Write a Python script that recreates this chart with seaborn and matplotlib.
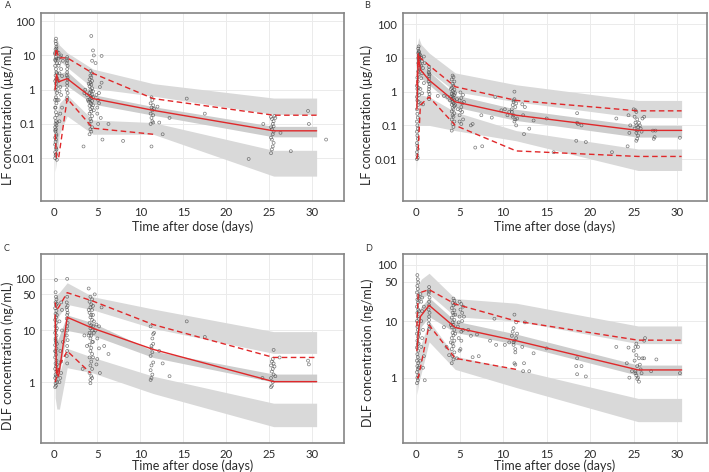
import matplotlib
matplotlib.use("Agg")
import matplotlib.pyplot as plt
import pandas as pd
import seaborn as sns

# time bins of the simulated prediction intervals / observed percentiles
bin_t = [0.1, 0.3, 0.6, 1.5, 4.5, 11.5, 25.5, 30.5]
line_t = [0.1, 0.25, 0.5, 1.5, 4.5, 11.5, 25.5, 30.5]

# ---------------- A : LF, regimen 1 ----------------
a_obs = [
    (0.10, 0.010), (0.15, 0.012), (0.10, 0.015), (0.20, 0.020), (0.10, 0.025), (0.15, 0.030), (0.20, 0.035),
    (0.10, 0.040), (0.25, 0.050), (0.15, 0.060), (0.20, 0.070), (0.10, 0.080), (0.25, 0.090), (0.15, 0.10),
    (0.20, 0.12), (0.10, 0.15), (0.30, 0.18), (0.20, 0.22), (0.15, 0.30), (0.25, 0.40), (0.10, 0.50),
    (0.20, 0.60), (0.30, 0.80), (0.15, 1.0), (0.25, 1.2), (0.20, 1.5), (0.10, 1.8), (0.30, 2.2), (0.15, 2.6),
    (0.25, 3.2), (0.20, 4.0), (0.10, 5.0), (0.30, 6.0), (0.15, 7.0), (0.25, 8.0), (0.20, 9.0), (0.10, 11),
    (0.30, 13), (0.15, 15), (0.25, 18), (0.20, 22), (0.15, 26), (0.20, 31), (0.30, 0.009), (0.25, 0.045),
    (0.30, 0.11), (0.10, 0.30), (0.30, 3.0), (0.10, 12), (0.25, 16), (0.20, 0.013), (0.25, 0.018),
    (0.10, 0.065), (0.30, 0.5), (0.20, 2.0), (0.10, 7.5),
    (0.5, 8), (0.6, 6), (0.7, 9), (0.5, 5), (0.8, 4), (0.6, 3), (0.9, 2.5), (0.5, 1.8), (0.7, 1.2),
    (0.6, 0.9), (0.8, 0.7), (0.5, 0.5), (0.9, 0.3), (0.7, 0.2), (0.6, 0.12), (1.0, 7), (0.8, 10), (0.5, 12),
    (1.5, 9), (1.5, 7), (1.45, 6), (1.55, 5), (1.5, 4), (1.5, 3.2), (1.45, 2.6), (1.55, 2), (1.5, 1.6),
    (1.5, 1.3), (1.45, 1.0), (1.55, 0.8), (1.5, 0.6), (1.5, 0.5), (1.45, 8), (1.55, 2.3),
    (4.1, 0.05), (4.3, 0.06), (4.2, 0.07), (4.4, 0.08), (4.1, 0.1), (4.3, 0.12), (4.2, 0.14), (4.4, 0.17),
    (4.1, 0.2), (4.3, 0.23), (4.2, 0.27), (4.4, 0.3), (4.1, 0.34), (4.3, 0.38), (4.2, 0.42), (4.4, 0.47),
    (4.1, 0.52), (4.3, 0.58), (4.2, 0.65), (4.4, 0.72), (4.1, 0.8), (4.3, 0.9), (4.2, 1.0), (4.4, 1.1),
    (4.1, 1.25), (4.3, 1.4), (4.2, 1.6), (4.4, 1.8), (4.1, 2.0), (4.3, 2.3), (4.2, 2.6), (4.4, 3.0),
    (4.5, 0.35), (4.5, 0.6), (4.5, 0.9), (4.0, 0.45), (4.0, 1.5), (3.8, 0.7), (3.6, 1.0), (3.4, 0.022),
    (3.5, 0.8), (4.3, 37), (4.5, 14), (4.6, 10), (4.4, 7), (4.2, 3.5), (5.0, 0.3), (5.1, 0.5), (5.2, 0.8),
    (5.3, 1.2), (5.0, 0.2), (5.2, 0.4), (5.4, 0.15), (5.5, 1.6), (5.1, 0.1), (5.5, 9.7), (5.6, 0.035),
    (4.8, 6), (3.9, 0.5), (4.6, 0.25), (4.9, 0.7),
    (11.2, 0.1), (11.4, 0.12), (11.3, 0.15), (11.5, 0.18), (11.2, 0.2), (11.4, 0.25), (11.3, 0.3),
    (11.5, 0.35), (11.2, 0.4), (11.4, 0.5), (11.3, 0.6), (11.5, 0.11), (11.3, 0.022), (11.6, 0.28),
    (12.0, 0.32), (12.2, 0.11),
    (6.3, 0.1), (8.0, 0.032), (12.6, 0.05), (13.4, 0.15), (15.4, 0.55), (17.5, 0.2), (22.6, 0.0095),
    (24.3, 0.1), (26.3, 0.055), (27.5, 0.016), (29.5, 0.24), (29.6, 0.1), (31.6, 0.035),
    (25.2, 0.014), (25.3, 0.018), (25.4, 0.022), (25.5, 0.028), (25.3, 0.035), (25.2, 0.04), (25.4, 0.05),
    (25.5, 0.06), (25.3, 0.07), (25.2, 0.08), (25.4, 0.1), (25.5, 0.12), (25.3, 0.14), (25.6, 0.17),
    (25.2, 0.16), (25.7, 0.15), (25.5, 0.085),
]
a_p95_lo = [5, 8, 7, 4.5, 1.1, 0.65, 0.19, 0.19]
a_p95_hi = [20, 30, 20, 12, 4.0, 1.5, 0.57, 0.57]
a_med_lo = [0.4, 1.2, 1.2, 1.3, 0.38, 0.18, 0.042, 0.042]
a_med_hi = [2, 3.5, 3, 3.4, 0.72, 0.32, 0.085, 0.085]
a_p5_lo = [0.004, 0.01, 0.05, 0.17, 0.05, 0.05, 0.003, 0.003]
a_p5_hi = [0.05, 0.2, 0.4, 0.7, 0.13, 0.11, 0.017, 0.017]
a_median = [1.0, 2.8, 1.7, 2.1, 0.55, 0.25, 0.063, 0.063]
a_upper = [10, 16, 8.5, 8.5, 3.0, 0.55, 0.18, 0.18]
a_lower = [0.05, 0.01, 0.01, 0.55, 0.075, 0.05]

# ---------------- B : LF, regimen 2 ----------------
b_obs = [
    (0.10, 0.010), (0.20, 0.011), (0.15, 0.013), (0.10, 0.016), (0.20, 0.020), (0.15, 0.025), (0.10, 0.030),
    (0.20, 0.040), (0.15, 0.050), (0.10, 0.065), (0.20, 0.080), (0.15, 0.10), (0.10, 0.13), (0.20, 0.17),
    (0.15, 0.22), (0.10, 0.30), (0.20, 0.40), (0.15, 0.55), (0.10, 0.70), (0.20, 0.90), (0.15, 1.2),
    (0.10, 1.5), (0.20, 2.0), (0.15, 2.6), (0.30, 3.2), (0.25, 4.0), (0.35, 5.0), (0.30, 6.0), (0.25, 7.0),
    (0.35, 8.0), (0.30, 9.0), (0.25, 10), (0.35, 11), (0.30, 12), (0.25, 14), (0.30, 16), (0.25, 19),
    (0.30, 22), (0.40, 4.5), (0.45, 6.5), (0.40, 9.5), (0.30, 1.3), (0.35, 0.8), (0.40, 13), (0.35, 15),
    (0.30, 0.5),
    (0.5, 12), (0.6, 10), (0.7, 8), (0.6, 6), (0.8, 5), (0.7, 3.5), (0.6, 2.5), (0.9, 1.8), (0.5, 1.2),
    (0.7, 0.9), (0.6, 0.45), (0.8, 0.42), (1.0, 7), (0.9, 11),
    (1.5, 5.5), (1.5, 4.5), (1.45, 3.8), (1.55, 3.2), (1.5, 2.8), (1.5, 2.4), (1.45, 2.0), (1.55, 1.7),
    (1.5, 1.4), (1.5, 1.2), (1.45, 1.0), (1.55, 0.85), (1.5, 0.7), (1.5, 0.6), (1.5, 3.5),
    (4.1, 0.07), (4.3, 0.09), (4.2, 0.11), (4.4, 0.13), (4.1, 0.15), (4.3, 0.18), (4.2, 0.2), (4.4, 0.23),
    (4.1, 0.26), (4.3, 0.3), (4.2, 0.33), (4.4, 0.37), (4.1, 0.41), (4.3, 0.45), (4.2, 0.5), (4.4, 0.55),
    (4.1, 0.6), (4.3, 0.66), (4.2, 0.72), (4.4, 0.8), (4.1, 0.88), (4.3, 0.95), (4.2, 1.05), (4.4, 1.15),
    (4.1, 1.3), (4.3, 1.5), (4.2, 1.7), (4.4, 2.0), (4.1, 2.3), (4.3, 2.7), (4.2, 3.0), (4.5, 0.4),
    (4.5, 0.9), (4.0, 0.7), (4.0, 1.2), (3.6, 0.7), (3.2, 0.75), (3.9, 0.55), (5.0, 0.2), (5.1, 0.28),
    (5.2, 0.35), (5.3, 0.45), (5.0, 0.55), (5.2, 0.65), (5.4, 0.8), (5.1, 0.95), (5.3, 0.25), (5.0, 0.13),
    (5.2, 0.11), (5.4, 0.15), (5.5, 0.5), (4.8, 0.3), (4.7, 0.6), (2.5, 0.75),
    (6.3, 0.1), (6.5, 0.11), (6.8, 0.022), (7.6, 0.024), (7.5, 0.2), (8.7, 0.17), (9.1, 0.7), (9.8, 0.28),
    (10.5, 0.2), (10.2, 0.3), (10.7, 0.25),
    (11.0, 0.3), (11.1, 0.4), (11.2, 0.5), (11.3, 0.6), (11.3, 1.0), (11.2, 0.2), (11.4, 0.15),
    (11.1, 0.18), (11.3, 0.13), (11.5, 0.1), (11.4, 0.35), (11.2, 0.55), (11.5, 0.45), (11.6, 0.16),
    (11.0, 0.25),
    (12.3, 0.2), (12.5, 0.35), (12.2, 0.42), (12.4, 0.055), (13.0, 0.08), (13.5, 0.14), (15.0, 0.16),
    (15.8, 0.016), (18.5, 0.23), (18.5, 0.12), (18.6, 0.11), (18.4, 0.035), (19.0, 0.1), (19.5, 0.032),
    (22.5, 0.016), (23.0, 0.16),
    (24.3, 0.024), (24.5, 0.06), (24.6, 0.1), (24.4, 0.2), (25.0, 0.3), (25.2, 0.28), (25.3, 0.25),
    (25.1, 0.18), (25.4, 0.15), (25.2, 0.12), (25.3, 0.1), (25.5, 0.09), (25.1, 0.08), (25.4, 0.07),
    (25.3, 0.06), (25.5, 0.05), (25.4, 0.04), (25.3, 0.035), (25.6, 0.12), (25.8, 0.08), (26.0, 0.16),
    (26.2, 0.18), (25.9, 0.065), (25.7, 0.1),
    (27.2, 0.07), (27.3, 0.04), (27.5, 0.07), (27.4, 0.045), (30.3, 0.043),
]
b_p95_lo = [3, 8, 6, 4, 1.0, 0.5, 0.17, 0.17]
b_p95_hi = [20, 40, 25, 14, 3.6, 1.6, 0.55, 0.55]
b_med_lo = [0.3, 3, 2.5, 1.6, 0.35, 0.14, 0.045, 0.045]
b_med_hi = [1.5, 8, 6, 4, 0.8, 0.3, 0.1, 0.1]
b_p5_lo = [0.005, 0.1, 0.1, 0.1, 0.07, 0.035, 0.0046, 0.0046]
b_p5_hi = [0.05, 0.8, 0.8, 0.7, 0.25, 0.07, 0.02, 0.02]
b_median = [0.3, 12, 4.5, 2.2, 0.5, 0.2, 0.071, 0.071]
b_upper = [1.5, 14, 10, 6, 1.4, 0.55, 0.27, 0.27]
b_lower = [0.01, 0.02, 0.4, 0.7, 0.1, 0.0175, 0.012, 0.012]

# ---------------- C : DLF, regimen 1 ----------------
c_obs = [
    (0.10, 0.80), (0.20, 0.85), (0.15, 0.95), (0.25, 1.1), (0.10, 1.2), (0.20, 1.3), (0.15, 1.4),
    (0.25, 1.6), (0.10, 1.8), (0.20, 2.0), (0.15, 2.3), (0.25, 2.6), (0.10, 3.0), (0.20, 3.4), (0.15, 3.9),
    (0.25, 4.5), (0.10, 5.2), (0.20, 6.0), (0.15, 7.0), (0.25, 8.0), (0.10, 9.0), (0.20, 10), (0.15, 12),
    (0.25, 14), (0.10, 16), (0.20, 18), (0.15, 21), (0.25, 24), (0.10, 27), (0.20, 31), (0.15, 35),
    (0.25, 40), (0.20, 45), (0.15, 55), (0.20, 95), (0.30, 1.0), (0.30, 2.2), (0.30, 5.5), (0.30, 11),
    (0.30, 20), (0.30, 33), (0.35, 1.3), (0.35, 1.7), (0.10, 4.0), (0.15, 6.5),
    (0.6, 1.0), (0.7, 1.2), (0.8, 2.5), (0.9, 10), (0.6, 15), (0.8, 35), (1.0, 6), (0.7, 4.0), (0.9, 25),
    (0.8, 1.5),
    (1.5, 100), (1.5, 45), (1.45, 35), (1.55, 30), (1.5, 25), (1.5, 20), (1.45, 17), (1.55, 14), (1.5, 12),
    (1.5, 10), (1.45, 8), (1.55, 6.5), (1.5, 5), (1.5, 4), (1.45, 3.2), (1.5, 2.3), (1.55, 22), (1.45, 28),
    (4.2, 1.1), (4.3, 1.3), (4.1, 1.5), (4.4, 1.8), (4.2, 2.1), (4.3, 2.5), (4.1, 3.0), (4.4, 3.5),
    (4.2, 4.0), (4.3, 4.6), (4.1, 5.3), (4.4, 6.0), (4.2, 7.0), (4.3, 8.0), (4.1, 9.0), (4.4, 10),
    (4.2, 11), (4.3, 12.5), (4.1, 14), (4.4, 16), (4.2, 18), (4.3, 20), (4.1, 22), (4.4, 25), (4.2, 28),
    (4.3, 32), (4.1, 36), (4.4, 40), (4.2, 45), (4.0, 65), (4.5, 12), (4.5, 20), (4.5, 30), (4.5, 6),
    (4.5, 3), (4.6, 9), (4.6, 15), (4.7, 50), (4.0, 8), (4.0, 25), (3.5, 8.0), (3.8, 5.0), (3.3, 1.8),
    (4.8, 10), (4.9, 13), (5.0, 7), (5.2, 4.5), (5.0, 2.8), (5.3, 1.5), (5.5, 28), (5.2, 12), (4.9, 2.2),
    (4.4, 1.2), (4.2, 0.95),
    (6.3, 3.5), (5.8, 5.0),
    (11.2, 1.1), (11.3, 1.2), (11.4, 1.4), (11.2, 1.7), (11.3, 2.1), (11.5, 2.4), (11.2, 3.2), (11.4, 3.8),
    (11.3, 4.5), (11.5, 5.5), (11.4, 7), (11.5, 8.5), (11.2, 12), (11.3, 5), (11.6, 9),
    (12.2, 4.0), (12.6, 2.3), (13.4, 1.3), (15.4, 15), (17.5, 7.5), (24.2, 1.2),
    (25.2, 0.8), (25.3, 0.85), (25.4, 1.0), (25.2, 1.2), (25.5, 1.4), (25.3, 1.6), (25.4, 1.8), (25.2, 2.1),
    (25.5, 2.3), (25.3, 2.5), (25.4, 2.8), (25.6, 2.0), (25.5, 4.2), (25.7, 1.3),
    (26.2, 3.0), (29.5, 2.6), (29.6, 2.2),
]
c_p95_lo = [10, 15, 20, 32, 25, 11, 3.6, 3.6]
c_p95_hi = [45, 50, 55, 84, 45, 26, 9.5, 9.5]
c_med_lo = [2, 1.2, 1.5, 10, 8, 3.0, 1.0, 1.0]
c_med_hi = [25, 6, 8, 20, 14, 4.0, 1.43, 1.43]
c_p5_lo = [0.5, 0.3, 0.3, 1.9, 1.5, 0.6, 0.137, 0.137]
c_p5_hi = [1.5, 1.0, 1.5, 4.5, 3.0, 1.3, 0.39, 0.39]
c_median = [20, 1.5, 1.3, 18, 11, 4.3, 1.02, 1.02]
c_upper = [35, 25, 28, 54, 37, 13, 3.0, 3.0]
c_lower = [1.0, 1.2, 2.0, 4.0, 1.5]
c_lower_t = [0.1, 0.25, 0.5, 1.5, 4.2]

# ---------------- D : DLF, regimen 2 ----------------
d_obs = [
    (0.10, 0.80), (0.20, 0.90), (0.15, 1.0), (0.25, 1.1), (0.10, 1.25), (0.20, 1.4), (0.15, 1.6),
    (0.25, 1.8), (0.10, 2.0), (0.20, 2.3), (0.15, 2.6), (0.25, 3.0), (0.10, 3.4), (0.20, 3.9), (0.15, 4.5),
    (0.25, 5.2), (0.10, 6.0), (0.20, 7.0), (0.15, 8.0), (0.25, 9.0), (0.10, 10), (0.20, 12), (0.15, 14),
    (0.25, 16), (0.10, 18), (0.20, 21), (0.15, 24), (0.25, 28), (0.10, 32), (0.20, 37), (0.15, 42),
    (0.25, 48), (0.20, 55), (0.15, 65), (0.30, 1.5), (0.30, 4), (0.30, 11), (0.30, 25), (0.35, 6),
    (0.35, 15),
    (0.5, 30), (0.6, 22), (0.7, 15), (0.6, 10), (0.8, 7), (0.7, 5), (0.6, 3.5), (0.9, 2.4), (0.5, 2.0),
    (0.8, 1.5), (1.0, 0.9), (0.9, 18), (0.7, 26),
    (1.5, 40), (1.5, 35), (1.45, 30), (1.55, 26), (1.5, 22), (1.5, 19), (1.45, 16), (1.55, 14), (1.5, 12),
    (1.5, 10.5), (1.45, 9), (1.55, 8), (1.5, 7.2), (1.5, 33),
    (4.1, 1.8), (4.3, 2.1), (4.2, 2.4), (4.4, 2.8), (4.1, 3.2), (4.3, 3.6), (4.2, 4.0), (4.4, 4.5),
    (4.1, 5.0), (4.3, 5.6), (4.2, 6.2), (4.4, 7.0), (4.1, 7.8), (4.3, 8.6), (4.2, 9.5), (4.4, 10.5),
    (4.1, 11.5), (4.3, 12.8), (4.2, 14), (4.4, 15.5), (4.1, 17), (4.3, 19), (4.2, 21), (4.4, 23), (4.3, 25),
    (4.5, 6), (4.5, 13), (4.5, 20), (4.0, 8.5), (3.8, 2.5), (3.5, 3.5), (3.2, 7.8), (4.0, 4.2), (4.8, 8),
    (4.9, 5), (5.0, 3), (5.0, 12), (5.1, 16), (5.2, 20), (5.3, 10), (5.4, 7), (5.2, 4.5), (5.1, 3.2),
    (5.3, 14), (5.0, 22), (5.4, 18), (5.5, 12), (4.9, 9.5), (5.2, 6.5), (4.7, 2.2),
    (6.3, 5.5), (6.5, 2.3), (7.2, 2.4), (7.0, 5.8), (8.5, 4.5), (9.0, 11), (9.2, 3.8), (10.2, 3.8),
    (10.7, 4.2), (6.0, 7),
    (11.0, 5.5), (11.1, 6.5), (11.2, 7.5), (11.3, 4.5), (11.2, 3.8), (11.4, 3.2), (11.3, 1.8), (11.4, 1.7),
    (11.5, 5), (11.3, 13), (11.5, 9.5), (11.2, 4.2), (11.6, 6), (11.4, 2.8),
    (12.3, 1.3), (12.4, 1.8), (12.5, 9.5), (12.2, 3.5), (13.0, 1.3), (13.5, 2.7), (15.0, 3.3), (18.5, 2.2),
    (18.4, 1.6), (18.5, 1.15), (19.0, 1.6), (19.5, 1.05), (23.0, 3.5), (24.2, 1.8), (24.5, 1.0), (24.4, 3.4),
    (24.8, 1.3), (25.0, 3.0), (25.2, 3.5), (25.3, 2.5), (25.1, 2.0), (25.4, 1.6), (25.2, 1.3), (25.3, 1.1),
    (25.5, 1.0), (25.4, 0.95), (25.2, 1.2), (25.6, 2.2), (25.8, 1.4), (25.6, 0.85), (25.3, 4.0), (25.9, 1.2),
    (26.0, 2.2), (26.2, 2.2), (26.2, 4.5), (26.3, 5.0), (25.7, 1.7), (25.5, 3.5),
    (27.0, 1.3), (27.6, 2.1), (30.3, 1.2),
]
d_p95_lo = [10, 20, 25, 30, 12, 10, 4.0, 4.0]
d_p95_hi = [30, 45, 55, 70, 25, 20.7, 8.2, 8.2]
d_med_lo = [1.5, 5, 8, 12, 6.3, 3.9, 1.1, 1.1]
d_med_hi = [6, 15, 18, 26, 10, 5.9, 1.67, 1.67]
d_p5_lo = [0.5, 0.8, 1.2, 4.3, 1.4, 0.67, 0.167, 0.167]
d_p5_hi = [2, 3, 4, 10, 2.4, 1.4, 0.43, 0.43]
d_median = [3, 6, 12, 19, 7.7, 4.5, 1.37, 1.37]
d_upper = [8, 30, 32, 36, 20, 10, 4.6, 4.6]
d_lower = [1.0, 1.0, 1.5, 8.5, 2.2, 1.4]

lf_ticks = [0.01, 0.1, 1, 10, 100]
lf_labels = ["0.01", "0.1", "1", "10", "100"]
dlf_ticks = [1, 10, 50, 100]
dlf_labels = ["1", "10", "50", "100"]
x_ticks = [0, 5, 10, 15, 20, 25, 30]

sns.set_theme(style="whitegrid")
plt.rcParams["font.family"] = ["Lato", "DejaVu Sans"]

RED = "#e0282a"
BAND = "#d9d9d9"
BAND_MED = "#cdcdcd"

panels = [
    dict(letter="A", pos=[0.0574, 0.574, 0.428, 0.398], obs=a_obs,
         bands=[(a_p95_lo, a_p95_hi, BAND), (a_med_lo, a_med_hi, BAND_MED), (a_p5_lo, a_p5_hi, BAND)],
         median=a_median, upper=a_upper, lower=a_lower, lower_t=line_t[:len(a_lower)],
         ylim=(5.6e-4, 171), xlim=(-1.58, 33.7), ticks=lf_ticks, labels=lf_labels,
         ylabel="LF concentration (µg/mL)", lab=(5, 5), ylab=(-0.089, 0.46), xlab=-0.105),
    dict(letter="B", pos=[0.568, 0.574, 0.429, 0.398], obs=b_obs,
         bands=[(b_p95_lo, b_p95_hi, BAND), (b_med_lo, b_med_hi, BAND_MED), (b_p5_lo, b_p5_hi, BAND)],
         median=b_median, upper=b_upper, lower=b_lower, lower_t=line_t[:len(b_lower)],
         ylim=(5.7e-4, 212), xlim=(-1.53, 33.4), ticks=lf_ticks, labels=lf_labels,
         ylabel="LF concentration (µg/mL)", lab=(364, 5), ylab=(-0.098, 0.46), xlab=-0.105),
    dict(letter="C", pos=[0.0574, 0.0614, 0.428, 0.400], obs=c_obs,
         bands=[(c_p95_lo, c_p95_hi, BAND), (c_med_lo, c_med_hi, BAND_MED), (c_p5_lo, c_p5_hi, BAND)],
         median=c_median, upper=c_upper, lower=c_lower, lower_t=c_lower_t,
         ylim=(0.066, 300), xlim=(-1.58, 33.7), ticks=dlf_ticks, labels=dlf_labels,
         ylabel="DLF concentration (ng/mL)", lab=(4, 248), ylab=(-0.089, 0.46), xlab=-0.085),
    dict(letter="D", pos=[0.568, 0.0614, 0.429, 0.400], obs=d_obs,
         bands=[(d_p95_lo, d_p95_hi, BAND), (d_med_lo, d_med_hi, BAND_MED), (d_p5_lo, d_p5_hi, BAND)],
         median=d_median, upper=d_upper, lower=d_lower, lower_t=line_t[:len(d_lower)],
         ylim=(0.07, 152), xlim=(-1.53, 33.4), ticks=dlf_ticks, labels=dlf_labels,
         ylabel="DLF concentration (ng/mL)", lab=(365, 248), ylab=(-0.095, 0.48), xlab=-0.085),
]

fig = plt.figure(figsize=(7.09, 4.72), dpi=100)

for p in panels:
    ax = fig.add_axes(p["pos"])
    ax.set_yscale("log")

    for lo, hi, col in p["bands"]:
        ax.fill_between(bin_t, lo, hi, color=col, lw=0, zorder=1)

    obs = pd.DataFrame(p["obs"], columns=["time", "conc"])
    sns.scatterplot(data=obs, x="time", y="conc", ax=ax, marker="o", s=4.5,
                    color="#444444", facecolor="none", edgecolor="#444444",
                    linewidth=0.5, alpha=0.7, zorder=2)

    sns.lineplot(x=line_t, y=p["median"], ax=ax, color=RED, lw=1.0,
                 estimator=None, sort=False, zorder=3)
    sns.lineplot(x=line_t, y=p["upper"], ax=ax, color=RED, lw=1.0, linestyle=(0, (4, 2.5)),
                 estimator=None, sort=False, zorder=3)
    sns.lineplot(x=p["lower_t"], y=p["lower"], ax=ax, color=RED, lw=1.0, linestyle=(0, (4, 2.5)),
                 estimator=None, sort=False, zorder=3)

    ax.set_xlim(*p["xlim"])
    ax.set_ylim(*p["ylim"])
    ax.set_xticks(x_ticks)
    ax.set_xticklabels([str(t) for t in x_ticks])
    ax.set_yticks(p["ticks"])
    ax.set_yticklabels(p["labels"])
    ax.yaxis.set_minor_locator(matplotlib.ticker.NullLocator())

    ax.set_facecolor("white")
    ax.grid(True, which="major", color="#ebebeb", lw=0.7)
    for sp in ax.spines.values():
        sp.set_visible(True)
        sp.set_color("#858585")
        sp.set_linewidth(1.2)
    ax.tick_params(axis="both", length=2.5, width=0.6, color="#666666",
                   labelsize=8.2, labelcolor="#2b2b2b", pad=1.5)

    ax.set_xlabel("Time after dose (days)", fontsize=9, color="#2b2b2b")
    ax.xaxis.set_label_coords(0.5, p["xlab"])
    ax.xaxis.label.set_va("top")
    ax.set_ylabel(p["ylabel"], fontsize=9, color="#2b2b2b")
    ax.yaxis.set_label_coords(*p["ylab"])

    fig.text(p["lab"][0] / 709, 1 - p["lab"][1] / 472, p["letter"], fontsize=6.5,
             color="#333333", ha="left", va="center")

fig.savefig("out.png", dpi=100, facecolor="white")
